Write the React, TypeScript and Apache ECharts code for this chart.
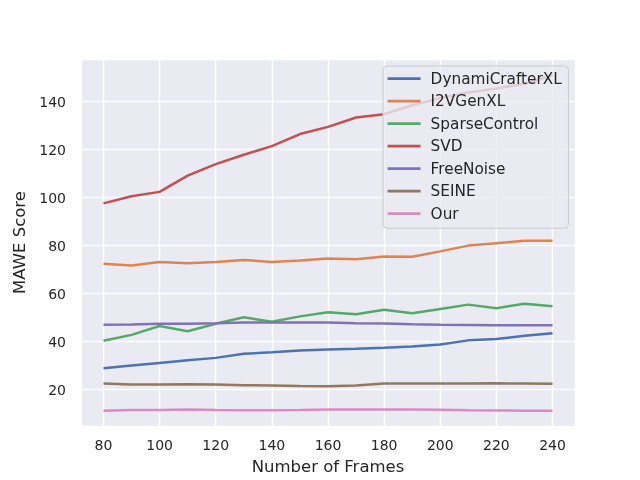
import React, { useEffect, useRef } from "react";
import * as echarts from "echarts";

const frames = [80, 90, 100, 110, 120, 130, 140, 150, 160, 170, 180, 190, 200, 210, 220, 230, 240];

const seriesNames = ["DynamiCrafterXL", "I2VGenXL", "SparseControl", "SVD", "FreeNoise", "SEINE", "Our"];
const seriesColors = ["#4C72B0", "#DD8452", "#55A868", "#C44E52", "#8172B3", "#937860", "#DA8BC3"];

const dynamiCrafterXL = [28.9, 30.0, 31.1, 32.2, 33.2, 34.9, 35.5, 36.25, 36.7, 37.0, 37.4, 37.9, 38.75, 40.5, 41.1, 42.4, 43.5];
const i2vGenXL = [72.4, 71.7, 73.2, 72.6, 73.2, 74.0, 73.2, 73.75, 74.6, 74.3, 75.5, 75.4, 77.6, 80.0, 81.0, 82.0, 82.0];
const sparseControl = [40.3, 42.8, 46.5, 44.3, 47.4, 50.1, 48.3, 50.5, 52.2, 51.4, 53.3, 51.8, 53.6, 55.4, 53.9, 55.8, 54.7];
const svd = [97.6, 100.6, 102.4, 109.2, 114.0, 117.9, 121.5, 126.5, 129.5, 133.4, 134.8, 138.5, 141.5, 143.8, 145.5, 147.5, 151.0];
const freeNoise = [47.0, 47.1, 47.4, 47.4, 47.6, 47.9, 47.9, 47.9, 47.9, 47.6, 47.5, 47.2, 47.0, 46.9, 46.8, 46.8, 46.8];
const seine = [22.5, 22.1, 22.1, 22.2, 22.1, 21.8, 21.7, 21.5, 21.4, 21.7, 22.5, 22.5, 22.5, 22.5, 22.6, 22.5, 22.4];
const our = [11.2, 11.5, 11.5, 11.7, 11.5, 11.4, 11.4, 11.5, 11.7, 11.7, 11.7, 11.7, 11.6, 11.4, 11.25, 11.2, 11.2];

const seriesValues = [dynamiCrafterXL, i2vGenXL, sparseControl, svd, freeNoise, seine, our];

const FONT = "DejaVu Sans";
const TEXT = "#262626";

export default function App() {
  const ref = useRef<HTMLDivElement>(null);
  useEffect(() => {
    if (!ref.current) return;
    const chart = echarts.init(ref.current, null, { renderer: "svg" });
    const tickFmt = (v: number) => (Math.abs(v % 20) < 1e-9 ? String(v) : "");
    chart.setOption({
      animation: false,
      textStyle: { fontFamily: FONT, color: TEXT },
      grid: {
        left: 81,
        right: 65,
        top: 59,
        bottom: 54,
        show: true,
        backgroundColor: "#EAEAF2",
        borderWidth: 0,
      },
      xAxis: {
        type: "value",
        min: 72,
        max: 248,
        splitNumber: 8,
        minInterval: 20,
        maxInterval: 20,
        name: "Number of Frames",
        nameLocation: "middle",
        nameGap: 32,
        nameTextStyle: { fontSize: 16.5, color: TEXT, fontFamily: FONT },
        axisLine: { show: false },
        axisTick: { show: false },
        axisLabel: { formatter: tickFmt, fontSize: 14, color: TEXT, fontFamily: FONT, margin: 12 },
        splitLine: { show: true, lineStyle: { color: "#ffffff", width: 1.4 } },
      },
      yAxis: {
        type: "value",
        min: 4.8,
        max: 157.8,
        splitNumber: 7,
        minInterval: 20,
        maxInterval: 20,
        name: "MAWE Score",
        nameLocation: "middle",
        nameGap: 44,
        nameTextStyle: { fontSize: 16.5, color: TEXT, fontFamily: FONT },
        axisLine: { show: false },
        axisTick: { show: false },
        axisLabel: { formatter: tickFmt, fontSize: 14, color: TEXT, fontFamily: FONT, margin: 15 },
        splitLine: { show: true, lineStyle: { color: "#ffffff", width: 1.4 } },
      },
      legend: {
        orient: "vertical",
        left: 383,
        top: 66,
        data: seriesNames,
        icon: "rect",
        backgroundColor: "rgba(234,234,242,0.8)",
        borderColor: "#cccccc",
        borderWidth: 1,
        borderRadius: 4,
        padding: [4.6, 6.6, 6.6, 4.6],
        itemWidth: 33,
        itemHeight: 2.6,
        itemGap: 6.5,
        textStyle: { fontSize: 15.3, color: TEXT, fontFamily: FONT, lineHeight: 16, padding: [0, 0, 0, 5] },
      },
      series: seriesNames.map((name, i) => ({
        name,
        type: "line",
        symbol: "none",
        color: seriesColors[i],
        lineStyle: { width: 2.5, color: seriesColors[i] },
        data: frames.map((f, j) => [f, seriesValues[i][j]]),
      })),
    });
    return () => chart.dispose();
  }, []);
  return <div ref={ref} style={{ position: "fixed", left: 0, top: 0, width: 640, height: 480 }} />;
}
